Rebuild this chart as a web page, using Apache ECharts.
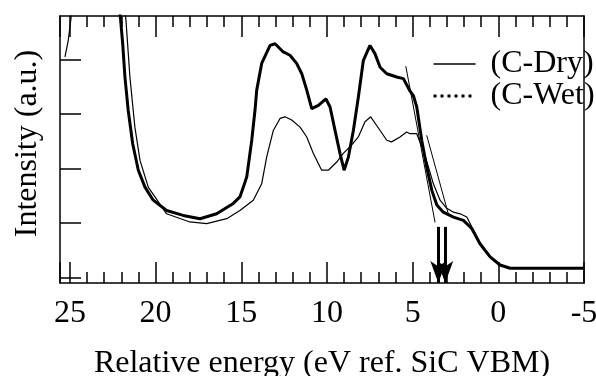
<!DOCTYPE html>
<html>
<head>
<meta charset="utf-8">
<script src="https://cdn.jsdelivr.net/npm/echarts@6/dist/echarts.min.js"></script>
<style>
html, body { margin: 0; padding: 0; background: #fff; }
#chart { width: 596px; height: 376px; }
</style>
</head>
<body>
<div id="chart"></div>
<script>
// 能量 (eV) 和强度读数
var dryEnergy = [25.29, 25.1, 24.94, 24.8, 22.0, 21.73, 21.5, 21.21, 20.91, 20.43, 19.36, 18.0, 17.02, 15.85, 15.08, 14.3, 13.81, 13.52, 13.13, 12.74, 12.45, 12.06, 11.57, 11.18, 10.8, 10.31, 9.92, 9.43, 9.05, 8.65, 8.17, 7.78, 7.45, 7.1, 6.51, 6.23, 5.74, 5.35, 5.15, 4.76, 4.47, 4.37, 4.08, 3.79, 3.4, 3.01, 2.62, 2.23, 1.84, 1.55, 1.07, 0.48, -0.1, -0.69, -5.0]
var dryValue = [4.05, 4.35, 4.75, 5.5, 5.5, 4.72, 3.68, 2.76, 2.15, 1.66, 1.17, 1.02, 0.99, 1.08, 1.23, 1.42, 1.72, 2.21, 2.7, 2.92, 2.95, 2.89, 2.76, 2.58, 2.28, 1.97, 1.97, 2.12, 2.28, 2.4, 2.58, 2.86, 2.95, 2.79, 2.52, 2.49, 2.58, 2.67, 2.64, 2.64, 2.4, 2.34, 2.03, 1.72, 1.42, 1.27, 1.2, 1.17, 1.11, 0.93, 0.64, 0.39, 0.24, 0.18, 0.18]
var wetEnergy = [22.3, 22.04, 21.92, 21.79, 21.6, 21.34, 21.01, 20.62, 20.14, 19.36, 18.39, 17.41, 16.44, 15.47, 15.08, 14.88, 14.68, 14.39, 14.2, 14.1, 13.81, 13.32, 13.03, 12.55, 12.16, 11.77, 11.47, 11.18, 10.89, 10.5, 10.06, 9.82, 9.53, 9.24, 9.0, 8.75, 8.46, 8.17, 7.88, 7.49, 7.2, 6.9, 6.51, 5.93, 5.54, 5.15, 4.96, 4.76, 4.47, 4.18, 3.88, 3.59, 3.21, 2.62, 2.04, 1.55, 1.07, 0.48, -0.1, -0.69, -5.0]
var wetValue = [5.5, 4.72, 4.29, 3.68, 3.07, 2.46, 1.97, 1.66, 1.42, 1.23, 1.14, 1.08, 1.17, 1.36, 1.48, 1.66, 1.85, 2.52, 3.07, 3.44, 3.93, 4.26, 4.29, 4.14, 4.08, 3.93, 3.74, 3.44, 3.1, 3.16, 3.28, 3.13, 2.7, 2.28, 1.97, 2.21, 2.7, 3.31, 3.98, 4.26, 4.11, 3.86, 3.74, 3.68, 3.65, 3.42, 3.34, 3.13, 2.52, 2.03, 1.6, 1.33, 1.2, 1.11, 1.05, 0.9, 0.62, 0.38, 0.23, 0.17, 0.17]
// 前沿拟合直线 [E1, I1, E2, I2]
var fitLines = [[5.40, 3.88, 3.69, 1.01], [4.18, 2.61, 2.92, 1.17]]
// 箭头位置 (eV)
var arrowEnergy = [3.5, 3.1]
var arrowTop = 0.93
var xTicks = [25, 20, 15, 10, 5, 0, -5]
var yTicks = [0, 1, 2, 3, 4]

var font = "'Liberation Serif', 'DejaVu Serif', serif"
var xMin = -5
var xMax = 25.58
var yMin = -0.1
var yMax = 4.8

function zip (xs, ys) {
  return xs.map(function (x, i) { return [x, ys[i]] })
}

var chart = echarts.init(document.getElementById('chart'))

function xAxisCfg (pos, major) {
  return {
    type: 'value',
    position: pos,
    inverse: true,
    min: xMin,
    max: xMax,
    interval: major ? 5 : 1,
    axisLine: { show: major, onZero: false, lineStyle: { color: '#000', width: 1.5 } },
    axisTick: { show: true, inside: true, length: major ? 21 : 11, lineStyle: { color: '#000', width: 1.5 } },
    axisLabel: { show: false },
    splitLine: { show: false }
  }
}

var bottomAxis = xAxisCfg('bottom', true)
bottomAxis.axisLabel = {
  show: true,
  customValues: xTicks,
  margin: 15,
  color: '#000',
  fontSize: 32,
  fontFamily: font
}
bottomAxis.name = 'Relative energy (eV ref. SiC VBM)'
bottomAxis.nameLocation = 'middle'
bottomAxis.nameGap = 65
bottomAxis.nameTextStyle = { color: '#000', fontSize: 32, fontFamily: font }

chart.setOption({
  animation: false,
  backgroundColor: '#fff',
  grid: { left: 60, right: 12, top: 16, bottom: 93, containLabel: false, outerBoundsMode: 'none' },
  legend: {
    orient: 'vertical',
    left: 432,
    top: 48,
    padding: 0,
    itemGap: 0,
    itemWidth: 42,
    itemHeight: 14,
    formatter: '({name})',
    textStyle: { color: '#000', fontSize: 32, fontFamily: font, lineHeight: 28, padding: [0, 0, 0, 10] },
    data: [
      { name: 'C-Dry', itemStyle: { opacity: 0 }, lineStyle: { width: 1.5 } },
      { name: 'C-Wet', itemStyle: { opacity: 0 }, lineStyle: { width: 3, type: [3, 4] } }
    ]
  },
  xAxis: [bottomAxis, xAxisCfg('bottom', false), xAxisCfg('top', true), xAxisCfg('top', false)],
  yAxis: [
    {
      type: 'value',
      position: 'left',
      min: yMin,
      max: yMax,
      axisLine: { show: true, onZero: false, lineStyle: { color: '#000', width: 1.5 } },
      axisTick: { show: true, inside: true, length: 21, customValues: yTicks, lineStyle: { color: '#000', width: 1.5 } },
      axisLabel: { show: false },
      splitLine: { show: false },
      name: 'Intensity (a.u.)',
      nameLocation: 'middle',
      nameGap: 16,
      nameTextStyle: { color: '#000', fontSize: 32, fontFamily: font, padding: [0, 0, 0, 12] }
    },
    {
      type: 'value',
      position: 'right',
      min: yMin,
      max: yMax,
      axisLine: { show: true, onZero: false, lineStyle: { color: '#000', width: 1.5 } },
      axisTick: { show: false },
      axisLabel: { show: false },
      splitLine: { show: false }
    }
  ],
  series: [
    {
      name: 'C-Dry',
      type: 'line',
      symbol: 'none',
      data: zip(dryEnergy, dryValue),
      lineStyle: { color: '#000', width: 1.2 },
      itemStyle: { color: '#000' },
      markLine: {
        silent: true,
        symbol: ['none', 'none'],
        label: { show: false },
        lineStyle: { color: '#000', width: 1, type: 'solid' },
        data: fitLines.map(function (f) {
          return [{ coord: [f[0], f[1]] }, { coord: [f[2], f[3]] }]
        })
      }
    },
    {
      name: 'C-Wet',
      type: 'line',
      symbol: 'none',
      data: zip(wetEnergy, wetValue),
      lineStyle: { color: '#000', width: 3 },
      itemStyle: { color: '#000' },
      markLine: {
        silent: true,
        symbol: ['none', 'arrow'],
        symbolSize: [12, 22],
        label: { show: false },
        lineStyle: { color: '#000', width: 3, type: 'solid' },
        itemStyle: { color: '#000' },
        data: arrowEnergy.map(function (e) {
          return [{ coord: [e, arrowTop] }, { coord: [e, yMin] }]
        })
      }
    }
  ]
})
</script>
</body>
</html>
